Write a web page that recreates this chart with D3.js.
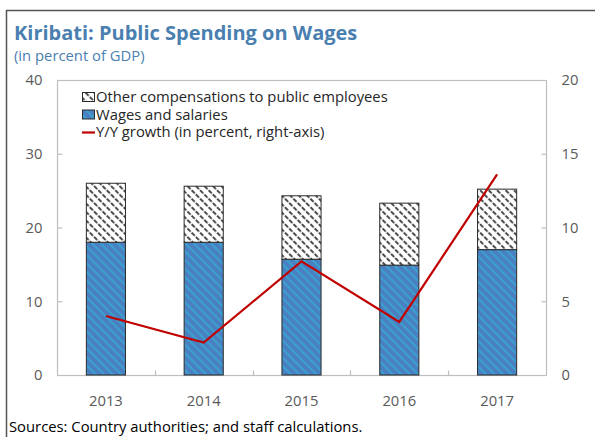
<!DOCTYPE html>
<html>
<head>
<meta charset="utf-8">
<script src="https://cdn.jsdelivr.net/npm/d3@7"></script>
<style>
  html, body { margin: 0; padding: 0; background: #fff; }
  svg { display: block; }
</style>
</head>
<body>
<svg id="chart" width="595" height="437"></svg>
<script>
// Kiribati public wage bill, percent of GDP, with y/y growth on the right axis
const years = ["2013", "2014", "2015", "2016", "2017"];
const wagesSalaries = [18.0, 18.0, 15.7, 14.9, 17.0];
const otherCompensation = [8.0, 7.6, 8.6, 8.4, 8.2];
const yoyGrowth = [4.0, 2.2, 7.7, 3.6, 13.6];
const leftTicks = [0, 10, 20, 30, 40];
const rightTicks = [0, 5, 10, 15, 20];

const svg = d3.select("#chart");
const font = "'Open Sans', 'Noto Sans', sans-serif";
const bodySize = 14.8;
const grey = "#595959";
const titleBlue = "#4a7fb0";

const plot = { left: 57, right: 546, top: 80, bottom: 375 };

const x = d3.scaleBand().domain(years).range([plot.left, plot.right]).paddingInner(0.6).paddingOuter(0.3);
const xStep = d3.scaleBand().domain(years).range([plot.left, plot.right]);
const yL = d3.scaleLinear().domain([0, 40]).range([plot.bottom, plot.top]);
const yR = d3.scaleLinear().domain([0, 20]).range([plot.bottom, plot.top]);

// Fill patterns
const defs = svg.append("defs");
const blue = defs.append("pattern").attr("id", "bluefill").attr("patternUnits", "userSpaceOnUse")
  .attr("width", 6).attr("height", 6).attr("patternTransform", "rotate(-45)");
blue.append("rect").attr("width", 6).attr("height", 6).attr("fill", "#4a80c2");
blue.append("rect").attr("x", 0).attr("width", 2).attr("height", 6).attr("fill", "#3aa0cc");

const hatch = defs.append("pattern").attr("id", "hatch").attr("patternUnits", "userSpaceOnUse")
  .attr("width", 6).attr("height", 6).attr("patternTransform", "rotate(-45)");
hatch.append("rect").attr("width", 6).attr("height", 6).attr("fill", "#fff");
hatch.append("line").attr("x1", 1).attr("y1", 0).attr("x2", 1).attr("y2", 6)
  .attr("stroke", "#111").attr("stroke-width", 1.5).attr("stroke-dasharray", "4.5,1.5");

// Outer frame (top and left)
svg.append("line").attr("x1", 6).attr("x2", 595).attr("y1", 10.5).attr("y2", 10.5).attr("stroke", "#555").attr("stroke-width", 1.5);
svg.append("line").attr("x1", 6.5).attr("x2", 6.5).attr("y1", 10).attr("y2", 437).attr("stroke", "#555").attr("stroke-width", 1.5);

// Title
svg.append("text").attr("x", 14).attr("y", 40).text("Kiribati: Public Spending on Wages")
  .attr("font-family", font).attr("font-weight", "bold").attr("font-size", 20).attr("fill", titleBlue);
svg.append("text").attr("x", 14).attr("y", 61).text("(in percent of GDP)")
  .attr("font-family", font).attr("font-size", bodySize).attr("fill", titleBlue);

// Plot frame
svg.append("rect").attr("x", plot.left + 0.5).attr("y", plot.top + 0.5)
  .attr("width", plot.right - plot.left).attr("height", plot.bottom - plot.top)
  .attr("fill", "none").attr("stroke", "#bfbfbf").attr("stroke-width", 1.2);

// Left axis
const leftAxis = svg.append("g").attr("transform", `translate(${plot.left + 0.5},0)`)
  .call(d3.axisLeft(yL).tickValues(leftTicks).tickSize(-5).tickPadding(15));
// Right axis
const rightAxis = svg.append("g").attr("transform", `translate(${plot.right + 0.5},0)`)
  .call(d3.axisRight(yR).tickValues(rightTicks).tickSize(-5).tickPadding(15));
[leftAxis, rightAxis].forEach(g => {
  g.select(".domain").remove();
  g.selectAll(".tick line").attr("stroke", "#bfbfbf").attr("stroke-width", 1.2);
  g.selectAll(".tick text").attr("font-family", font).attr("font-size", bodySize).attr("fill", grey);
});
leftAxis.selectAll(".tick").filter(d => d === 0 || d === 40).select("line").remove();
rightAxis.selectAll(".tick").filter(d => d === 0 || d === 20).select("line").remove();

// Bottom category ticks between groups
const bottom = svg.append("g").attr("transform", `translate(0,${plot.bottom + 0.5})`);
years.slice(1).forEach(yr => {
  const bx = Math.round(xStep(yr)) + 0.5;
  bottom.append("line").attr("x1", bx).attr("x2", bx).attr("y1", 0).attr("y2", -5)
    .attr("stroke", "#bfbfbf").attr("stroke-width", 1.2);
});
years.forEach(yr => {
  bottom.append("text").attr("x", xStep(yr) + xStep.bandwidth() / 2).attr("y", 30)
    .attr("text-anchor", "middle").attr("font-family", font).attr("font-size", bodySize).attr("fill", grey).text(yr);
});

// Stacked bars
const bars = svg.append("g");
years.forEach((yr, i) => {
  const w = wagesSalaries[i], o = otherCompensation[i];
  bars.append("rect").attr("x", x(yr)).attr("width", x.bandwidth())
    .attr("y", yL(w)).attr("height", yL(0) - yL(w))
    .attr("fill", "url(#bluefill)").attr("stroke", "#2b2b2b").attr("stroke-width", 1);
  bars.append("rect").attr("x", x(yr)).attr("width", x.bandwidth())
    .attr("y", yL(w + o)).attr("height", yL(w) - yL(w + o))
    .attr("fill", "url(#hatch)").attr("stroke", "#2b2b2b").attr("stroke-width", 1);
});

// Growth line on the right axis
const line = d3.line().x((d, i) => xStep(years[i]) + xStep.bandwidth() / 2).y(d => yR(d));
svg.append("path").datum(yoyGrowth).attr("d", line)
  .attr("fill", "none").attr("stroke", "#c00000").attr("stroke-width", 2.2);

// Legend
const legendItems = [
  { label: "Other compensations to public employees", kind: "hatch" },
  { label: "Wages and salaries", kind: "blue" },
  { label: "Y/Y growth (in percent, right-axis)", kind: "line" }
];
const lg = svg.append("g");
legendItems.forEach((d, i) => {
  const ly = 97 + i * 17.5;
  if (d.kind === "line") {
    lg.append("line").attr("x1", 82).attr("x2", 95).attr("y1", ly + 0.5).attr("y2", ly + 0.5)
      .attr("stroke", "#c00000").attr("stroke-width", 2.2);
  } else {
    lg.append("rect").attr("x", 82.5).attr("y", ly - 4.5).attr("width", 12).attr("height", 9)
      .attr("fill", d.kind === "hatch" ? "url(#hatch)" : "url(#bluefill)")
      .attr("stroke", "#2b2b2b").attr("stroke-width", 1);
  }
  lg.append("text").attr("x", 96).attr("y", ly + 5).text(d.label)
    .attr("font-family", font).attr("font-size", bodySize).attr("fill", "#262626");
});

// Source note
svg.append("text").attr("x", 9).attr("y", 432).text("Sources: Country authorities; and staff calculations.")
  .attr("font-family", font).attr("font-size", bodySize).attr("fill", "#000");
</script>
</body>
</html>
